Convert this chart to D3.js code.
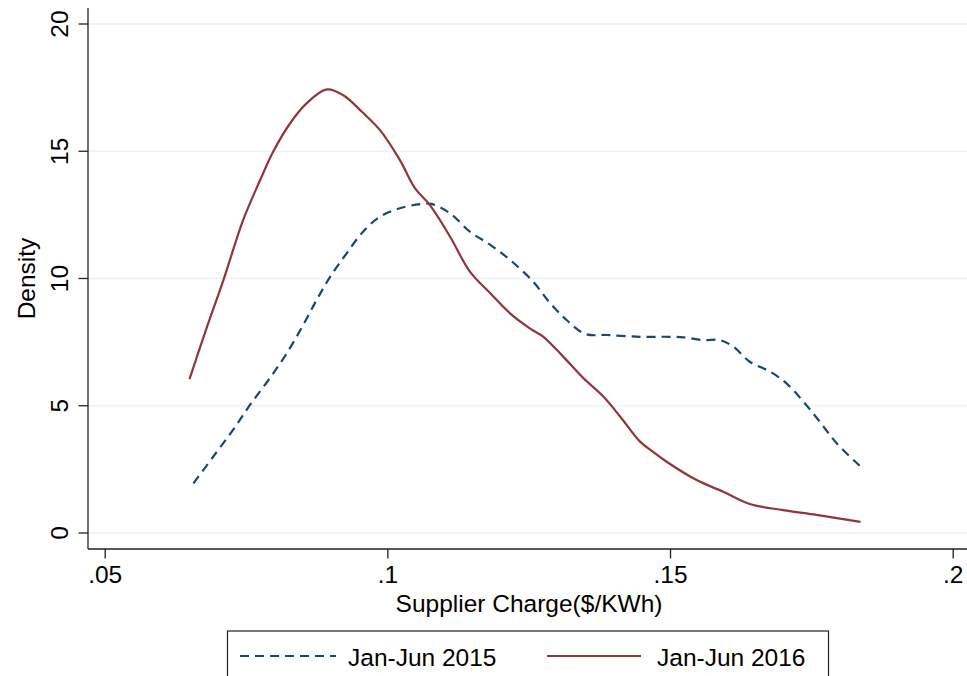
<!DOCTYPE html>
<html>
<head>
<meta charset="utf-8">
<script src="https://cdn.jsdelivr.net/npm/d3@7"></script>
<style>
  body { margin: 0; background: #fff; }
  text { font-family: "Liberation Sans", Arial, Helvetica, sans-serif; fill: #000; }
</style>
</head>
<body>
<script>
var width = 967,
    height = 676;

// kernel density, Jan-Jun 2015
var charge2015 = [0.0657, 0.0692, 0.0727, 0.0757, 0.0792, 0.0822, 0.0851, 0.0875, 0.0899, 0.0928,
  0.0957, 0.0987, 0.1022, 0.1058, 0.1078, 0.1111, 0.1146, 0.1182, 0.1217, 0.1258, 0.1288, 0.1317,
  0.1350, 0.1388, 0.1447, 0.1500, 0.1524, 0.1559, 0.1588, 0.1612, 0.1641, 0.1677, 0.1706, 0.1736,
  0.1765, 0.1795, 0.1837];
var density2015 = [1.95, 3.0, 4.05, 5.03, 6.08, 7.06, 8.17, 9.16, 10.07, 10.99,
  11.84, 12.43, 12.76, 12.92, 12.93, 12.56, 11.84, 11.32, 10.73, 9.87, 9.03, 8.37,
  7.82, 7.78, 7.71, 7.71, 7.69, 7.58, 7.58, 7.32, 6.73, 6.34, 5.88, 5.16,
  4.37, 3.52, 2.61];

// kernel density, Jan-Jun 2016
var charge2016 = [0.0650, 0.0680, 0.0710, 0.0745, 0.0775, 0.0798, 0.0828, 0.0857, 0.0893, 0.0922,
  0.0955, 0.0987, 0.1022, 0.1049, 0.1075, 0.1111, 0.1146, 0.1182, 0.1217, 0.1252, 0.1276, 0.1311,
  0.1347, 0.1382, 0.1412, 0.1447, 0.1470, 0.1494, 0.1547, 0.1594, 0.1641, 0.1700, 0.1759, 0.1837];
var density2016 = [6.05, 8.04, 9.94, 12.3, 13.87, 14.98, 16.1, 16.88, 17.43, 17.2,
  16.55, 15.83, 14.66, 13.54, 12.89, 11.64, 10.27, 9.42, 8.63, 8.04, 7.71, 6.93,
  6.08, 5.36, 4.57, 3.59, 3.19, 2.80, 2.08, 1.62, 1.14, 0.90, 0.71, 0.44];

var xTicks = [0.05, 0.1, 0.15, 0.2];
var xTickLabels = [".05", ".1", ".15", ".2"];
var yTicks = [0, 5, 10, 15, 20];
var seriesNames = ["Jan-Jun 2015", "Jan-Jun 2016"];

var navy = "#1a476f",
    maroon = "#90353b",
    gridColor = "#eaf2f3",
    fontSize = "24.5px";

var x = d3.scaleLinear().domain([0.05, 0.2]).range([104.7, 952.7]);
var y = d3.scaleLinear().domain([0, 20]).range([533, 24]);

var plotLeft = 88, plotRight = 970, plotTop = 8, plotBottom = 549;

var svg = d3.select("body").append("svg")
    .attr("width", width)
    .attr("height", height);

// grid lines
svg.append("g").selectAll("line").data(yTicks)
  .enter().append("line")
    .attr("x1", plotLeft).attr("x2", plotRight)
    .attr("y1", d => y(d)).attr("y2", d => y(d))
    .attr("stroke", gridColor)
    .attr("stroke-width", 1.5);

// y axis
var yAxis = d3.axisLeft(y).tickValues(yTicks).tickSize(9.5).tickSizeOuter(0).tickFormat(d3.format("d"));
var gy = svg.append("g").attr("transform", "translate(" + plotLeft + ",0)").call(yAxis);
gy.select(".domain").attr("d", "M0," + plotTop + "V" + plotBottom);
gy.selectAll("path, line").attr("stroke", "#222").attr("stroke-width", 1.3);
gy.selectAll("text")
    .attr("x", null).attr("dy", null)
    .attr("transform", d => "translate(-20," + y(d) + ") rotate(-90)")
    .attr("y", 0)
    .attr("text-anchor", "middle")
    .style("font-size", fontSize)
    .style("font-family", null);
gy.selectAll(".tick").attr("transform", null);
gy.selectAll(".tick line").attr("y1", d => y(d)).attr("y2", d => y(d));
gy.attr("font-family", null).attr("font-size", null);

// x axis
var xAxis = d3.axisBottom(x).tickValues(xTicks).tickSize(9.5).tickSizeOuter(0)
    .tickFormat((d, i) => xTickLabels[i]);
var gx = svg.append("g").attr("transform", "translate(0," + plotBottom + ")").call(xAxis);
gx.select(".domain").attr("d", "M" + plotLeft + ",0H" + plotRight);
gx.selectAll("path, line").attr("stroke", "#222").attr("stroke-width", 1.3);
gx.selectAll("text")
    .attr("y", 34).attr("dy", null)
    .style("font-size", fontSize);
gx.attr("font-family", null).attr("font-size", null);

// axis titles
svg.append("text")
    .attr("x", (plotLeft + plotRight) / 2)
    .attr("y", 612)
    .attr("text-anchor", "middle")
    .style("font-size", fontSize)
    .text("Supplier Charge($/KWh)");

svg.append("text")
    .attr("transform", "translate(35," + ((plotTop + plotBottom) / 2) + ") rotate(-90)")
    .attr("text-anchor", "middle")
    .style("font-size", fontSize)
    .text("Density");

// curves
var line = d3.line()
    .x(d => x(d[0]))
    .y(d => y(d[1]))
    .curve(d3.curveCatmullRom.alpha(0.5));

svg.append("path")
    .datum(d3.zip(charge2015, density2015))
    .attr("fill", "none")
    .attr("stroke", navy)
    .attr("stroke-width", 2.2)
    .attr("stroke-dasharray", "9,6")
    .attr("d", line);

svg.append("path")
    .datum(d3.zip(charge2016, density2016))
    .attr("fill", "none")
    .attr("stroke", maroon)
    .attr("stroke-width", 2.2)
    .attr("d", line);

// legend
var legend = svg.append("g");
legend.append("rect")
    .attr("x", 227.5).attr("y", 631)
    .attr("width", 601).attr("height", 60)
    .attr("fill", "#fff")
    .attr("stroke", "#222")
    .attr("stroke-width", 1.2);

var legendItems = [
  {name: seriesNames[0], color: navy, dash: "9,6", x0: 240, x1: 336, tx: 348},
  {name: seriesNames[1], color: maroon, dash: null, x0: 547, x1: 641, tx: 657}
];

legend.selectAll(".item").data(legendItems)
  .enter().append("line")
    .attr("x1", d => d.x0).attr("x2", d => d.x1)
    .attr("y1", 656).attr("y2", 656)
    .attr("stroke", d => d.color)
    .attr("stroke-width", 2.2)
    .attr("stroke-dasharray", d => d.dash);

legend.selectAll("text").data(legendItems)
  .enter().append("text")
    .attr("x", d => d.tx)
    .attr("y", 666)
    .style("font-size", fontSize)
    .text(d => d.name);
</script>
</body>
</html>
